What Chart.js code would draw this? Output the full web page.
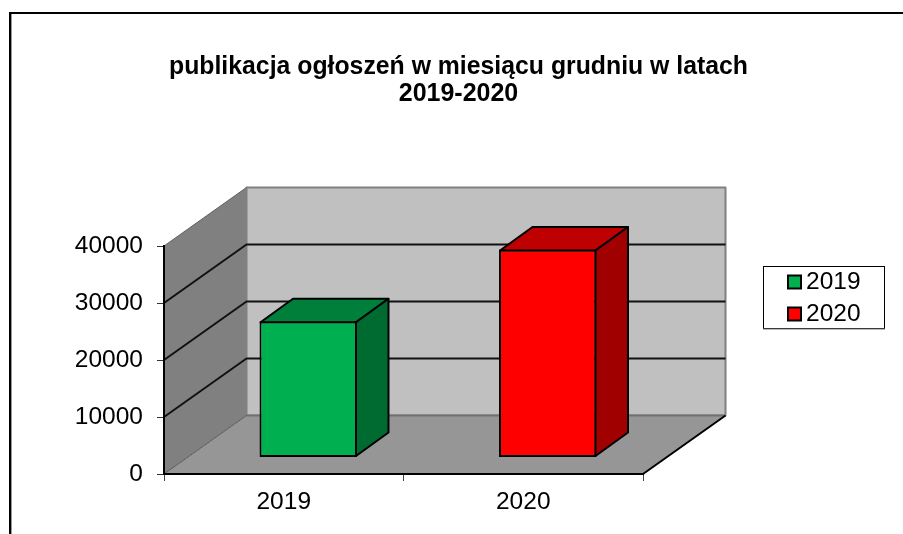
<!DOCTYPE html>
<html><head><meta charset="utf-8">
<style>html,body{margin:0;padding:0;background:#fff}canvas{display:block}</style>
<script src="https://cdn.jsdelivr.net/npm/chart.js@4/dist/chart.umd.js"></script>
</head><body>
<canvas id="c" width="903" height="534"></canvas>
<script>
const categories = ['2019', '2020'];
const values2019 = [23900, null];
const values2020 = [null, 36500];
const yTicks = [0, 10000, 20000, 30000, 40000];
const titleLines = ['publikacja ogłoszeń w miesiącu grudniu w latach', '2019-2020'];
const FONT = '"Liberation Sans", Arial, sans-serif';

const faces = [
  {front: '#00B050', top: '#007F3A', side: '#006B31'},
  {front: '#FF0000', top: '#BF0000', side: '#A00000'}
];
const DX = 82.5, DY = 58.5;         // wall depth
const BX = 24.5, BY = 16.5;         // bar position on floor
const BD = 32.5, BE = 23.5;         // bar depth

function poly(ctx, pts, fill, stroke, lw) {
  ctx.beginPath();
  pts.forEach((p, i) => i ? ctx.lineTo(p[0], p[1]) : ctx.moveTo(p[0], p[1]));
  ctx.closePath();
  if (fill) { ctx.fillStyle = fill; ctx.fill(); }
  if (stroke) { ctx.strokeStyle = stroke; ctx.lineWidth = lw; ctx.lineJoin = 'round'; ctx.stroke(); }
}
function line(ctx, pts, color, lw) {
  ctx.beginPath();
  pts.forEach((p, i) => i ? ctx.lineTo(p[0], p[1]) : ctx.moveTo(p[0], p[1]));
  ctx.strokeStyle = color; ctx.lineWidth = lw; ctx.stroke();
}

const scene = {
  id: 'scene',
  afterLayout(chart) {
    const t = chart.titleBlock, w = t.right - t.left;
    t.left = 458.5 - w / 2;
    t.right = 458.5 + w / 2;
  },
  beforeDraw(chart) {
    const ctx = chart.ctx, a = chart.chartArea, y = chart.scales.y;
    const L = a.left, R = a.right, T = y.getPixelForValue(40000), B = y.getPixelForValue(0);
    ctx.save();
    // outer frame
    ctx.fillStyle = '#000';
    ctx.fillRect(9, 12, 894, 2);
    ctx.fillRect(9, 12, 2, 522);
    ctx.fillStyle = '#999';
    ctx.fillRect(11, 14, 1, 520);
    // walls and floor
    poly(ctx, [[L + DX, T - DY], [R + DX, T - DY], [R + DX, B - DY], [L + DX, B - DY]], '#C0C0C0', '#808080', 2);
    poly(ctx, [[L, T], [L + DX, T - DY], [L + DX, B - DY], [L, B]], '#808080');
    poly(ctx, [[L, B], [R, B], [R + DX, B - DY], [L + DX, B - DY]], '#969696');
    line(ctx, [[L + DX, B - DY], [R + DX, B - DY]], '#707070', 2);
    line(ctx, [[L, B], [L + DX, B - DY]], '#5a5a5a', 1);
    line(ctx, [[L, T], [L + DX, T - DY]], '#606060', 1);
    line(ctx, [[R, B], [R + DX, B - DY]], '#000', 2);
    // gridlines on the walls
    yTicks.filter(v => v > 0 && v < 40000).forEach(v => {
      const p = y.getPixelForValue(v);
      line(ctx, [[L, p], [L + DX, p - DY], [R + DX, p - DY]], '#111', 2);
    });
    ctx.restore();
  },
  beforeDatasetsDraw(chart) {
    chart.ctx.save();
    chart.ctx.translate(BX, -BY);
  },
  afterDatasetsDraw(chart) {
    const ctx = chart.ctx;
    chart.data.datasets.forEach((ds, i) => {
      chart.getDatasetMeta(i).data.forEach((el, j) => {
        if (ds.data[j] == null) return;
        const p = el.getProps(['x', 'y', 'base', 'width'], true);
        const l = p.x - p.width / 2 + 1, r = p.x + p.width / 2 - 1, t = p.y + 1, b = p.base - 1;
        poly(ctx, [[l, t], [r, t], [r + BD, t - BE], [l + BD, t - BE]], faces[i].top, '#000', 2);
        poly(ctx, [[r, t], [r + BD, t - BE], [r + BD, b - BE], [r, b]], faces[i].side, '#000', 2);
      });
    });
    ctx.restore();
    // legend
    ctx.save();
    ctx.fillStyle = '#fff';
    ctx.strokeStyle = '#000';
    ctx.lineWidth = 1;
    ctx.fillRect(763.5, 266.5, 121, 62);
    ctx.strokeRect(763.5, 266.5, 121, 62);
    ctx.fillStyle = '#777';
    ctx.fillRect(763, 328.5, 122, 1);
    ctx.font = '24.5px ' + FONT;
    ctx.textBaseline = 'middle';
    chart.data.datasets.forEach((ds, i) => {
      const yy = 281.5 + i * 32;
      ctx.fillStyle = ds.backgroundColor;
      ctx.lineWidth = 2;
      ctx.strokeStyle = '#000';
      ctx.fillRect(788, yy - 6, 13, 13);
      ctx.strokeRect(788, yy - 6, 13, 13);
      ctx.fillStyle = '#000';
      ctx.fillText(ds.label, 806, yy + 1);
    });
    ctx.restore();
  }
};

new Chart(document.getElementById('c'), {
  type: 'bar',
  data: {
    labels: categories,
    datasets: [
      {label: '2019', data: values2019, backgroundColor: faces[0].front, borderColor: '#000', borderWidth: 2, borderSkipped: false},
      {label: '2020', data: values2020, backgroundColor: faces[1].front, borderColor: '#000', borderWidth: 2, borderSkipped: false}
    ]
  },
  options: {
    responsive: false,
    animation: false,
    grouped: false,
    clip: false,
    barPercentage: 0.407,
    categoryPercentage: 1,
    layout: {padding: {left: 64, right: 260, top: 0, bottom: 0}},
    plugins: {
      legend: {display: false},
      tooltip: {enabled: false},
      title: {
        display: true,
        text: titleLines,
        color: '#000',
        font: {family: FONT, size: 25, weight: 'bold', lineHeight: 1.08},
        padding: {top: 54, bottom: 138}
      }
    },
    scales: {
      x: {
        offset: true,
        afterFit: s => { s.height = 60; },
        grid: {drawOnChartArea: false, offset: true, tickLength: 7, color: '#444', lineWidth: 1},
        border: {color: '#000', width: 2},
        ticks: {color: '#000', font: {family: FONT, size: 24.5}, padding: 7, maxRotation: 0}
      },
      y: {
        min: 0, max: 40000,
        afterFit: s => { s.width = 100; },
        afterBuildTicks: s => { s.ticks = yTicks.map(v => ({value: v})); },
        grid: {drawOnChartArea: false, tickLength: 7, color: '#333', lineWidth: 1},
        border: {color: '#000', width: 2},
        ticks: {color: '#000', font: {family: FONT, size: 24.5}, padding: 14, callback: v => String(v)}
      }
    }
  },
  plugins: [scene]
});
</script>
</body></html>
